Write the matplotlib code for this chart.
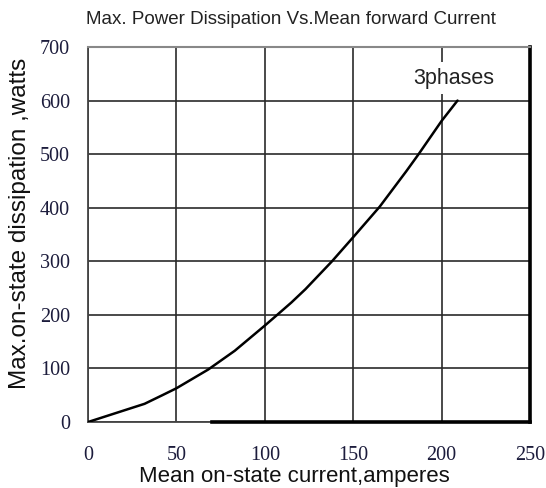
import matplotlib
matplotlib.use("Agg")
import matplotlib.pyplot as plt

# curve (amperes, watts)
current = [0, 32, 42, 50, 68, 83, 100, 107, 115, 123, 138, 150, 165, 180, 187, 200, 209]
dissipation = [0, 34, 50, 63, 98, 133, 180, 200, 223, 248, 300, 345, 402, 468, 500, 562, 600]

x_ticks = [0, 50, 100, 150, 200, 250]
y_ticks = [0, 100, 200, 300, 400, 500, 600, 700]

title = "Max. Power Dissipation Vs.Mean forward Current"
x_label = "Mean on-state current,amperes"
y_label = "Max.on-state dissipation ,watts"
curve_label = "3phases"

fig = plt.figure(figsize=(5.46, 4.88), dpi=100)
ax = fig.add_axes([0.1612, 0.1352, 0.8095, 0.7685])

ax.set_xlim(0, 250)
ax.set_ylim(0, 700)
ax.set_xticks(x_ticks)
ax.set_yticks(y_ticks)

tick_font = {"family": "Liberation Serif", "size": 14.5, "color": "#1c1c3c"}
ax.set_xticklabels([str(v) for v in x_ticks], fontdict=tick_font)
ax.set_yticklabels([str(v) for v in y_ticks], fontdict=tick_font)
ax.tick_params(axis="y", length=0, pad=13)
ax.tick_params(axis="x", length=0, pad=17)

ax.grid(True, color="#2a2a2a", linewidth=1.2)
ax.set_axisbelow(True)

for side in ["left", "bottom"]:
    ax.spines[side].set_linewidth(1.3)
    ax.spines[side].set_color("#444444")
ax.spines["top"].set_color("#888888")
ax.spines["top"].set_linewidth(1.5)
ax.spines["right"].set_color("black")
ax.spines["right"].set_linewidth(2.6)

# heavier stretch of the bottom edge, as in the scan
ax.plot([70, 250], [0, 0], color="black", linewidth=2.6, clip_on=False, zorder=3)

ax.plot(current, dissipation, color="black", linewidth=1.8, zorder=4,
        solid_joinstyle="round", solid_capstyle="round")

ax.text(207, 642, curve_label, ha="center", va="center",
        family="Liberation Sans", fontsize=15.5, color="#222222",
        bbox=dict(facecolor="white", edgecolor="none", pad=4), zorder=5)

fig.suptitle(title, x=0.532, y=0.978, family="Liberation Sans", fontsize=13.5,
             color="#222222")
ax.set_xlabel(x_label, family="Liberation Sans", fontsize=16, color="#111111")
ax.set_ylabel(y_label, family="Liberation Sans", fontsize=17.5, color="#111111")
ax.xaxis.set_label_coords(0.468, -0.118)
ax.yaxis.set_label_coords(-0.128, 0.53)

fig.savefig("out.png", dpi=100)
